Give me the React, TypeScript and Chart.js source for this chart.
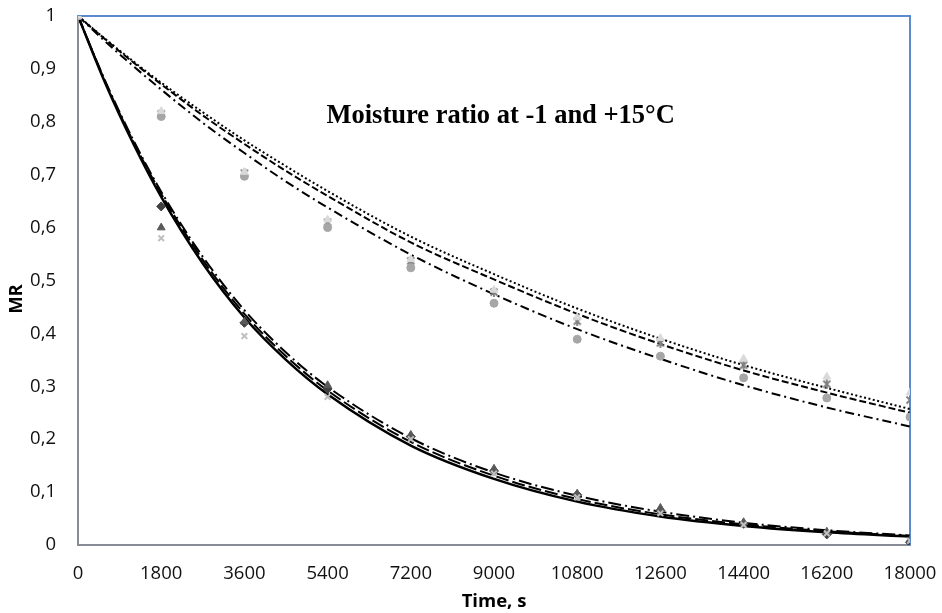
import React, { useEffect, useRef } from 'react';
import { Chart, registerables } from 'chart.js';

Chart.register(...registerables);

// ---- axis ticks ----
const xTickValues = [0, 1800, 3600, 5400, 7200, 9000, 10800, 12600, 14400, 16200, 18000];
const yTickValues = [0, 0.1, 0.2, 0.3, 0.4, 0.5, 0.6, 0.7, 0.8, 0.9, 1];
const yTickLabels = ['0', '0,1', '0,2', '0,3', '0,4', '0,5', '0,6', '0,7', '0,8', '0,9', '1'];

// ---- measured points ----
const measTimes = [0, 1800, 3600, 5400, 7200, 9000, 10800, 12600, 14400, 16200, 18000];
const lowDiamond = [1, 0.64, 0.42, 0.295, 0.205, 0.14, 0.095, 0.065, 0.04, 0.02, 0.005];
const lowTriangle = [1, 0.6, 0.422, 0.302, 0.208, 0.144, 0.097, 0.07, 0.043, 0.025, 0.01];
const lowCross = [1, 0.58, 0.395, 0.28, 0.2, 0.135, 0.09, 0.06, 0.038, 0.022, 0.008];
const upCircle = [1, 0.81, 0.697, 0.6, 0.524, 0.457, 0.389, 0.357, 0.316, 0.278, 0.242];
const upStar = [1, 0.815, 0.703, 0.61, 0.537, 0.478, 0.423, 0.382, 0.34, 0.304, 0.274];
const upTriangle = [1, 0.82, 0.705, 0.615, 0.54, 0.482, 0.43, 0.391, 0.352, 0.318, 0.288];

// ---- model curves ----
const curveTimes = [0, 600, 1200, 1800, 2700, 3600, 4500, 5400, 7200, 9000, 10800, 12600, 14400, 16200, 18000];
const lowSolid = [1, 0.871, 0.758, 0.658, 0.532, 0.43, 0.35, 0.285, 0.188, 0.125, 0.082, 0.054, 0.036, 0.024, 0.016];
const lowDash = [1, 0.873, 0.762, 0.664, 0.539, 0.437, 0.357, 0.292, 0.195, 0.131, 0.087, 0.058, 0.039, 0.026, 0.017];
const lowDashDot = [1, 0.875, 0.765, 0.668, 0.545, 0.444, 0.364, 0.299, 0.202, 0.137, 0.093, 0.063, 0.042, 0.028, 0.018];
const upDotted = [1, 0.956, 0.914, 0.874, 0.818, 0.765, 0.716, 0.669, 0.583, 0.512, 0.447, 0.39, 0.34, 0.297, 0.257];
const upDashed = [1, 0.955, 0.912, 0.871, 0.812, 0.758, 0.707, 0.66, 0.572, 0.502, 0.437, 0.38, 0.33, 0.288, 0.25];
const upDashDot = [1, 0.951, 0.905, 0.861, 0.798, 0.741, 0.687, 0.638, 0.549, 0.474, 0.408, 0.352, 0.302, 0.26, 0.224];

const chartTitle = 'Moisture ratio at -1 and +15°C';
const xTitle = 'Time, s';
const yTitle = 'MR';

const pts = (xs: number[], ys: number[]) => xs.map((x, i) => ({ x, y: ys[i] }));

function makeAsterisk(color: string, size: number, lw: number) {
  const c = document.createElement('canvas');
  c.width = size;
  c.height = size;
  const ctx = c.getContext('2d')!;
  ctx.strokeStyle = color;
  ctx.lineWidth = lw;
  const p = 1.5;
  ctx.beginPath();
  ctx.moveTo(p, p);
  ctx.lineTo(size - p, size - p);
  ctx.moveTo(size - p, p);
  ctx.lineTo(p, size - p);
  ctx.moveTo(size / 2, 0);
  ctx.lineTo(size / 2, size);
  ctx.stroke();
  return c;
}

const framePlugin = {
  id: 'frameAndTitle',
  beforeDatasetsDraw(chart: any) {
    const { ctx, chartArea } = chart;
    ctx.save();
    ctx.strokeStyle = '#5a8ad0';
    ctx.lineWidth = 2;
    ctx.beginPath();
    ctx.moveTo(chartArea.left, chartArea.top);
    ctx.lineTo(chartArea.right, chartArea.top);
    ctx.lineTo(chartArea.right, chartArea.bottom);
    ctx.stroke();
    ctx.restore();
  },
  afterDatasetsDraw(chart: any) {
    const { ctx, chartArea } = chart;
    const w = chartArea.right - chartArea.left;
    const h = chartArea.bottom - chartArea.top;
    ctx.save();
    ctx.font = 'bold 26.5px "Liberation Serif", "Times New Roman", serif';
    ctx.fillStyle = '#000';
    ctx.textAlign = 'center';
    ctx.textBaseline = 'alphabetic';
    ctx.fillText(chartTitle, chartArea.left + w * 0.508, chartArea.top + h * 0.2017);
    // y axis title
    ctx.translate(chartArea.left - 61, chartArea.top + h * 0.535);
    ctx.rotate(-Math.PI / 2);
    ctx.font = 'bold 18.5px "Open Sans", "Liberation Sans", sans-serif';
    ctx.textBaseline = 'middle';
    ctx.fillText(yTitle, 0, 0);
    ctx.restore();
  },
};

export default function App() {
  const ref = useRef<HTMLCanvasElement | null>(null);

  useEffect(() => {
    if (!ref.current) return;
    const star = makeAsterisk('#7f7f7f', 10, 1.8);
    const tickFont = { family: '"Open Sans", "Liberation Sans", sans-serif', size: 18.5 };
    const titleFont = { family: '"Open Sans", "Liberation Sans", sans-serif', size: 18.5, weight: 'bold' as const };

    const curve = (data: number[], dash: number[], width: number) => ({
      data: pts(curveTimes, data),
      showLine: true,
      borderColor: '#000',
      borderWidth: width,
      borderDash: dash,
      pointRadius: 0,
      pointHoverRadius: 0,
      cubicInterpolationMode: 'monotone' as const,
      fill: false,
    });
    const marks = (data: number[], style: any, color: string, radius: number, borderColor?: string, bw = 1) => ({
      data: pts(measTimes, data),
      showLine: false,
      pointStyle: style,
      pointRadius: radius,
      pointBackgroundColor: color,
      pointBorderColor: borderColor || color,
      pointBorderWidth: bw,
    });

    const chart = new Chart(ref.current, {
      type: 'scatter',
      data: {
        datasets: [
          marks(upTriangle, 'triangle', '#d9d9d9', 4.5),
          marks(upCircle, 'circle', '#a6a6a6', 4),
          marks(upStar, star, '#7f7f7f', 5),
          marks(lowCross, 'crossRot', '#bfbfbf', 4, '#bfbfbf', 2),
          marks(lowTriangle, 'triangle', '#595959', 4.5),
          marks(lowDiamond, 'rectRot', '#404040', 4.5),
          curve(upDotted, [2, 2.5], 2),
          curve(upDashed, [7, 3], 2),
          curve(upDashDot, [9, 4, 2, 4], 2),
          curve(lowSolid, [], 2.5),
          curve(lowDash, [13, 4], 2),
          curve(lowDashDot, [13, 4, 2, 4], 2),
        ] as any,
      },
      options: {
        animation: false,
        responsive: true,
        maintainAspectRatio: false,
        layout: { padding: { left: 0, right: 32, top: 16, bottom: 0 } },
        plugins: {
          legend: { display: false },
          tooltip: { enabled: false },
          title: { display: false },
        },
        scales: {
          x: {
            type: 'linear',
            min: 0,
            max: 18000,
            afterBuildTicks: (scale: any) => {
              scale.ticks = xTickValues.map((v) => ({ value: v }));
            },
            afterFit: (scale: any) => {
              scale.height = 68;
              scale.paddingLeft = 0;
              scale.paddingRight = 0;
            },
            grid: { display: false, drawTicks: false },
            border: { display: true, color: '#878c96', width: 2 },
            ticks: {
              color: '#111',
              font: tickFont,
              padding: 18,
              maxRotation: 0,
              autoSkip: false,
              callback: (v: any) => String(v),
            },
            title: { display: true, text: xTitle, color: '#000', font: titleFont, padding: { top: 0, bottom: 0 } },
          },
          y: {
            type: 'linear',
            min: 0,
            max: 1,
            afterBuildTicks: (scale: any) => {
              scale.ticks = yTickValues.map((v) => ({ value: v }));
            },
            afterFit: (scale: any) => {
              scale.width = 78;
              scale.paddingTop = 0;
              scale.paddingBottom = 0;
            },
            grid: { display: false, drawTicks: false },
            border: { display: true, color: '#878c96', width: 2 },
            ticks: {
              color: '#111',
              font: tickFont,
              padding: 22,
              autoSkip: false,
              callback: (v: any) => {
                const i = yTickValues.findIndex((t) => Math.abs(t - v) < 1e-9);
                return i >= 0 ? yTickLabels[i] : '';
              },
            },
            title: { display: false },
          },
        },
      },
      plugins: [framePlugin],
    });
    return () => chart.destroy();
  }, []);

  return (
    <div style={{ position: 'fixed', left: 0, top: 0, width: '942px', height: '613px', background: '#fff' }}>
      <canvas ref={ref} />
    </div>
  );
}
